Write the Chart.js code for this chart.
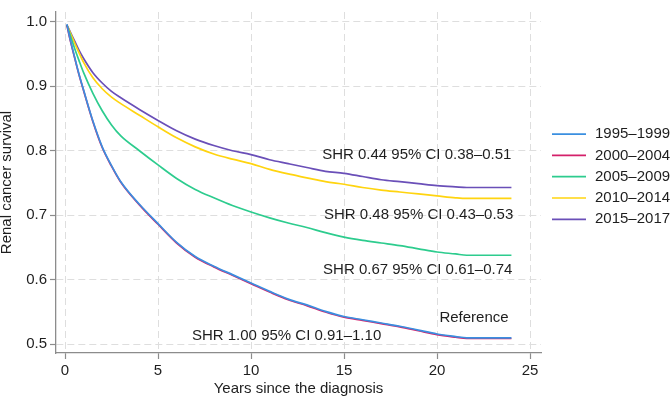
<!DOCTYPE html>
<html><head><meta charset="utf-8">
<script src="https://cdn.jsdelivr.net/npm/chart.js@4/dist/chart.umd.min.js"></script>
<style>html,body{margin:0;padding:0;background:#fff}canvas{display:block}</style>
</head><body>
<canvas id="c" width="671" height="399"></canvas>
<script>
// ---- data ----
const years = [0.1,0.25,0.5,0.75,1,1.5,2,2.5,3,4,5,6,7,8,9,10,11,12,13,14,15,16,17,18,19,20,21,21.6,24];
const seriesLabels = ['1995\u20131999','2000\u20132004','2005\u20132009','2010\u20132014','2015\u20132017'];
const s1995 = [0.996,0.976,0.947,0.919,0.894,0.846,0.806,0.777,0.752,0.717,0.687,0.658,0.636,0.621,0.608,0.595,0.582,0.570,0.561,0.551,0.543,0.538,0.533,0.528,0.522,0.516,0.512,0.510,0.510];
const s2000 = [0.995,0.975,0.946,0.918,0.893,0.845,0.805,0.776,0.751,0.716,0.686,0.657,0.635,0.620,0.607,0.594,0.581,0.569,0.560,0.550,0.542,0.537,0.532,0.527,0.521,0.515,0.511,0.509,0.509];
const s2005 = [0.995,0.982,0.960,0.940,0.921,0.889,0.862,0.840,0.823,0.800,0.778,0.757,0.740,0.727,0.715,0.705,0.696,0.688,0.681,0.673,0.666,0.661,0.657,0.653,0.648,0.643,0.640,0.638,0.638];
const s2010 = [0.995,0.985,0.968,0.952,0.937,0.913,0.896,0.883,0.873,0.855,0.837,0.820,0.806,0.795,0.787,0.780,0.771,0.764,0.758,0.752,0.748,0.743,0.739,0.736,0.733,0.730,0.727,0.726,0.726];
const s2015 = [0.995,0.986,0.971,0.956,0.943,0.921,0.905,0.892,0.882,0.864,0.847,0.831,0.818,0.808,0.800,0.794,0.786,0.780,0.774,0.768,0.765,0.760,0.755,0.752,0.749,0.746,0.744,0.743,0.743];
const xTicks = [0,5,10,15,20,25];
const yTicks = [0.5,0.6,0.7,0.8,0.9,1.0];
const noteTexts = ['SHR 0.44 95% CI 0.38\u20130.51','SHR 0.48 95% CI 0.43\u20130.53','SHR 0.67 95% CI 0.61\u20130.74','Reference','SHR 1.00 95% CI 0.91\u20131.10'];
const noteX = [24.0, 24.1, 24.05, 23.85, 17.0];
const noteY = [0.794, 0.701, 0.616, 0.541, 0.5125];

// ---- styles ----
const colors = ['#3a8fe0','#d4206a','#2dcc8e','#ffd40f','#6a4fb8'];
const allSeries = [s1995, s2000, s2005, s2010, s2015];
const FONT = 'Liberation Sans, Arial, Helvetica, sans-serif';
const TXT = '#1e1e1e';

const datasets = allSeries.map((s, i) => ({
  label: seriesLabels[i],
  data: years.map((t, k) => ({x: t, y: s[k]})),
  borderColor: colors[i],
  backgroundColor: colors[i],
  borderWidth: 1.7,
  pointRadius: 0,
  cubicInterpolationMode: 'monotone',
  fill: false
}));

const notesPlugin = {
  id: 'notes',
  afterDatasetsDraw(chart) {
    const {ctx, scales: {x, y}} = chart;
    ctx.save();
    ctx.font = '15px ' + FONT;
    ctx.fillStyle = TXT;
    ctx.textAlign = 'right';
    ctx.textBaseline = 'middle';
    noteTexts.forEach((t, i) => {
      ctx.fillText(t, x.getPixelForValue(noteX[i]), y.getPixelForValue(noteY[i]));
    });
    ctx.restore();
  }
};

const legendPlugin = {
  id: 'sideLegend',
  afterDraw(chart) {
    const {ctx, chartArea} = chart;
    const x0 = chartArea.right + 11, x1 = chartArea.right + 45, tx = chartArea.right + 54;
    const mid = 176.7, step = 21.3;
    ctx.save();
    ctx.font = '15px ' + FONT;
    ctx.textAlign = 'left';
    ctx.textBaseline = 'middle';
    chart.data.datasets.forEach((ds, i) => {
      const yy = mid + (i - 2) * step;
      ctx.strokeStyle = ds.borderColor;
      ctx.lineWidth = 1.7;
      ctx.beginPath(); ctx.moveTo(x0, yy); ctx.lineTo(x1, yy); ctx.stroke();
      ctx.fillStyle = TXT;
      ctx.fillText(ds.label, tx, yy);
    });
    ctx.restore();
  }
};

const gridOpts = {color: '#dedede', lineWidth: 1, tickLength: 6, tickColor: '#8c8c8c', tickWidth: 1.2, tickBorderDash: []};
const borderOpts = {display: true, color: '#8c8c8c', width: 1.3, dash: [7, 4]};

new Chart(document.getElementById('c'), {
  type: 'line',
  data: {datasets},
  options: {
    responsive: false,
    animation: false,
    devicePixelRatio: 1,
    layout: {padding: {left: 0, right: 130, top: 0, bottom: 0}},
    plugins: {legend: {display: false}, tooltip: {enabled: false}},
    scales: {
      x: {
        type: 'linear',
        min: -0.484, max: 25.59,
        afterBuildTicks(s) { s.ticks = xTicks.map(v => ({value: v})); },
        afterFit(s) { s.height = 46; },
        grid: gridOpts,
        border: borderOpts,
        ticks: {color: TXT, font: {family: FONT, size: 15}, padding: 3, maxRotation: 0, callback: v => String(v)},
        title: {display: true, text: 'Years since the diagnosis', color: TXT, font: {family: FONT, size: 15}, padding: {top: 1, bottom: 1}}
      },
      y: {
        type: 'linear',
        min: 0.4865, max: 1.015,
        afterBuildTicks(s) { s.ticks = yTicks.map(v => ({value: v})); },
        afterFit(s) { s.width = 56; },
        grid: gridOpts,
        border: borderOpts,
        ticks: {color: TXT, font: {family: FONT, size: 15}, padding: 3, callback: v => Number(v).toFixed(1)},
        title: {display: true, text: 'Renal cancer survival', color: TXT, font: {family: FONT, size: 15, lineHeight: 1}, padding: {top: -1, bottom: 0}}
      }
    }
  },
  plugins: [notesPlugin, legendPlugin]
});
</script>
</body></html>
